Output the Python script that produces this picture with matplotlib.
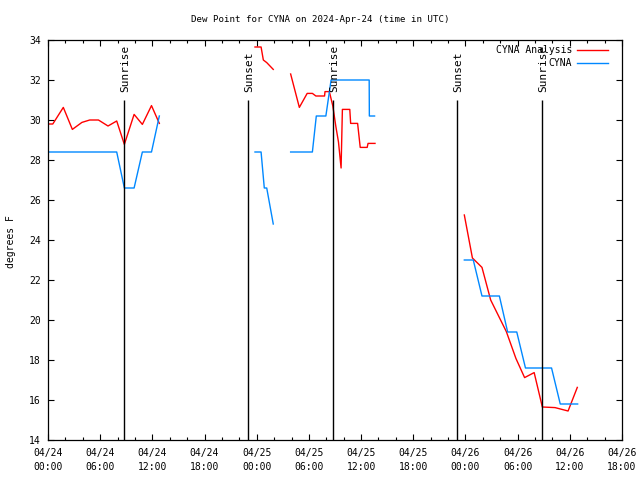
import numpy as np
import matplotlib
matplotlib.use('Agg')
import matplotlib.pyplot as plt
from matplotlib.ticker import MultipleLocator

nan = np.nan

# hours since 2024-04-24 00:00 UTC; NaN marks a data gap
analysis_hours = [0.0, 0.55, 1.76, 2.8, 3.9, 4.8, 5.8, 6.9, 7.9, 8.78, 9.9, 10.85, 11.9, 12.8,
                  nan,
                  23.8, 24.5, 24.76, 25.15, 25.9,
                  nan,
                  27.9, 28.9, 29.8, 30.4, 30.8, 31.8, 31.85, 32.35, 32.75, 33.1, 33.4, 33.7,
                  33.85, 34.7, 34.8, 35.6, 35.9, 36.7, 36.8, 37.6,
                  nan,
                  47.87, 48.8, 49.9, 50.9, 52.7, 53.8, 54.8, 55.9, 56.84, 58.3, 59.8, 60.86]
analysis_dewpt = [29.8, 29.8, 30.63, 29.53, 29.88, 30.0, 30.0, 29.7, 29.95, 28.78, 30.28, 29.78, 30.72, 29.83,
                  nan,
                  33.65, 33.65, 33.0, 32.87, 32.53,
                  nan,
                  32.3, 30.63, 31.33, 31.33, 31.2, 31.2, 31.42, 31.42, 30.7, 29.67, 28.9, 27.6,
                  30.53, 30.53, 29.83, 29.83, 28.63, 28.63, 28.83, 28.83,
                  nan,
                  25.25, 23.1, 22.63, 21.0, 19.42, 18.08, 17.12, 17.37, 15.65, 15.62, 15.45, 16.63]

obs_hours = [0.0, 7.9, 8.78, 9.9, 10.85, 11.9, 12.8,
             nan,
             23.8, 24.5, 24.87, 25.15, 25.9,
             nan,
             27.9, 30.4, 30.85, 31.95, 32.55, 36.93, 36.95, 37.55,
             nan,
             47.87, 48.9, 49.9, 51.9, 52.85, 53.9, 54.9, 57.9, 58.9, 60.9]
obs_dewpt = [28.4, 28.4, 26.6, 26.6, 28.4, 28.4, 30.2,
             nan,
             28.4, 28.4, 26.6, 26.6, 24.8,
             nan,
             28.4, 28.4, 30.2, 30.2, 32.0, 32.0, 30.2, 30.2,
             nan,
             23.0, 23.0, 21.2, 21.2, 19.4, 19.4, 17.6, 17.6, 15.8, 15.8]

sunrise_hours = [8.78, 32.81, 56.84]
sunset_hours = [23.03, 47.07]

xtick_hours = [0, 6, 12, 18, 24, 30, 36, 42, 48, 54, 60, 66]
xtick_labels = ["04/24\n00:00", "04/24\n06:00", "04/24\n12:00", "04/24\n18:00",
                "04/25\n00:00", "04/25\n06:00", "04/25\n12:00", "04/25\n18:00",
                "04/26\n00:00", "04/26\n06:00", "04/26\n12:00", "04/26\n18:00"]
ytick_values = [14, 16, 18, 20, 22, 24, 26, 28, 30, 32, 34]

title = "Dew Point for CYNA on 2024-Apr-24 (time in UTC)"

plt.rcParams['font.family'] = ['DejaVu Sans Mono']
FS = 7

fig = plt.figure(figsize=(6.4, 4.8), dpi=100)
ax = fig.add_axes([48/640, 40/480, 574/640, 400/480])

ax.plot(analysis_hours, analysis_dewpt, color='#ff0000', lw=1.0, label='CYNA Analysis', zorder=2)
ax.plot(obs_hours, obs_dewpt, color='#0088ff', lw=1.0, label='CYNA', zorder=2)

ax.vlines(sunrise_hours + sunset_hours, 14, 31.0, color='black', lw=1.0, zorder=3)
for h in sunrise_hours:
    ax.text(h + 0.1, 31.4, 'Sunrise', rotation=90, ha='center', va='bottom', fontsize=8)
for h in sunset_hours:
    ax.text(h + 0.1, 31.4, 'Sunset', rotation=90, ha='center', va='bottom', fontsize=8)

ax.set_xlim(0, 66)
ax.set_ylim(14, 34)
ax.set_xticks(xtick_hours)
ax.set_xticklabels(xtick_labels, fontsize=FS)
ax.xaxis.set_minor_locator(MultipleLocator(2))
ax.set_yticks(ytick_values)
ax.set_yticklabels([str(v) for v in ytick_values], fontsize=FS)
for lbl in ax.get_xticklabels():
    lbl.set_linespacing(1.5)

ax.tick_params(axis='both', which='major', direction='in', length=4, width=0.8,
               top=True, right=True, pad=5)
ax.tick_params(axis='x', which='major', pad=6)
ax.tick_params(axis='x', which='minor', direction='in', length=2, width=0.8, top=True)
for s in ax.spines.values():
    s.set_linewidth(0.9)

fig.text(11/640, 1 - 242/480, 'degrees F', rotation=90, ha='center', va='center', fontsize=FS)
fig.text(0.5, 1 - 20/480, title, ha='center', va='center', fontsize=6.6)

leg = ax.legend(loc='upper right', bbox_to_anchor=(1 - 12/574, 1 - 3/400), frameon=False,
                markerfirst=False, fontsize=FS, handlelength=3.2, handletextpad=0.5,
                labelspacing=0.35, borderaxespad=0.0, borderpad=0.2)

fig.savefig('out.png', dpi=100)
